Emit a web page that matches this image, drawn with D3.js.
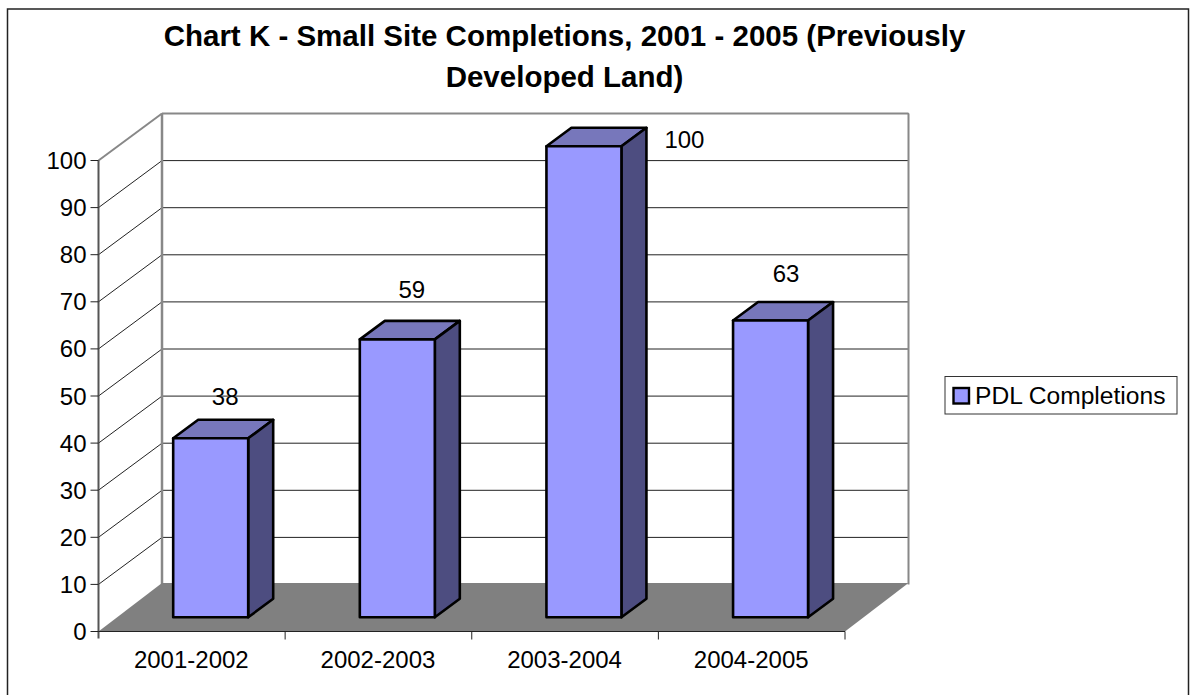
<!DOCTYPE html>
<html><head><meta charset="utf-8">
<script src="https://cdn.jsdelivr.net/npm/d3@7"></script>
<style>html,body{margin:0;padding:0;background:#fff}svg{display:block}text{font-family:"Liberation Sans",Arial,sans-serif;fill:#000}</style>
</head><body><svg id="c" width="1191" height="695"></svg>
<script>
const categories=["2001-2002","2002-2003","2003-2004","2004-2005"];
const seriesName="PDL Completions";
const values=[38,59,100,63];
const yTicks=[0,10,20,30,40,50,60,70,80,90,100];
const titleLines=["Chart K - Small Site Completions, 2001 - 2005 (Previously","Developed Land)"];

const labelNudgeX=[0,0,86,1], labelNudgeY=[-33.5,-41,2,-39];

const svg=d3.select("#c");
const W=1191,H=695;
svg.append("rect").attr("x",7.5).attr("y",9).attr("width",1181).attr("height",H).attr("fill","#fff").attr("stroke","#222").attr("stroke-width",1.5);

const x0=98.5,x1=845,yBase=631.5,yTop=160.5,dx=63.5,dy=47;
const y=d3.scaleLinear().domain([0,100]).range([yBase,yTop]);
const x=d3.scaleBand().domain(categories).range([x0,x1]);
const path=p=>"M"+p.map(q=>q.join(",")).join("L")+"Z";
const ln=(a,b,c,w)=>svg.append("line").attr("x1",a[0]).attr("y1",a[1]).attr("x2",b[0]).attr("y2",b[1]).attr("stroke",c).attr("stroke-width",w);

// gridlines
yTicks.slice(1).forEach(t=>{
  if(t<100) ln([x0,y(t)],[x0+dx,y(t)-dy],"#222",1);
  ln([x0+dx,y(t)-dy],[x1+dx,y(t)-dy],"#222",1);
});
ln([x0,y(100)],[x0+dx,y(100)-dy],"#888",2);
// walls
ln([x0+dx,y(100)-dy],[x1+dx,y(100)-dy],"#888",2);
ln([x0+dx,y(100)-dy],[x0+dx,yBase-dy],"#888",2.5);
ln([x1+dx,y(100)-dy],[x1+dx,yBase-dy],"#888",2);
// floor
svg.append("path").attr("d",path([[x0,yBase],[x1,yBase],[x1+dx,yBase-dy-1.5],[x0+dx,yBase-dy-1.5]])).attr("fill","#808080");
ln([x0,yBase+7],[x0,y(100)],"#555",2);

// axes
yTicks.forEach(t=>{
  ln([x0-8,y(t)],[x0,y(t)],"#222",1);
  svg.append("text").attr("x",x0-12).attr("y",y(t)+8.5).attr("text-anchor","end").attr("font-size",24).text(t);
});
ln([x0,yBase],[x1,yBase],"#222",1.2);
[...categories.map(c=>x(c)).slice(1),x1].forEach(v=>ln([v,yBase],[v,yBase+8],"#222",1));
categories.forEach(c=>svg.append("text").attr("x",x(c)+x.bandwidth()/2-0.5).attr("y",668).attr("text-anchor","middle").attr("font-size",24).text(c));

// bars
const barW=75,depthF=0.313,barDx=25,barDy=18.5;
const sx=dx*depthF,sy=dy*depthF;
const g=svg.selectAll("g.bar").data(values).join("g").attr("class","bar");
const left=(d,i)=>x(categories[i])+(x.bandwidth()-barW)/2+sx-1;
const bot=yBase-sy+0.5, topY=d=>y(d)-sy+0.5;
g.append("path").attr("d",(d,i)=>{const l=left(d,i);return path([[l,topY(d)],[l+barW,topY(d)],[l+barW+barDx,topY(d)-barDy],[l+barDx,topY(d)-barDy]])}).attr("fill","#7777bb");
g.append("path").attr("d",(d,i)=>{const l=left(d,i)+barW;return path([[l,topY(d)],[l+barDx,topY(d)-barDy],[l+barDx,bot-barDy],[l,bot]])}).attr("fill","#4d4d80");
g.append("path").attr("d",(d,i)=>{const l=left(d,i);return path([[l,topY(d)],[l+barW,topY(d)],[l+barW,bot],[l,bot]])}).attr("fill","#9999ff");
g.selectAll("path").attr("stroke","#000").attr("stroke-width",2.6).attr("stroke-linejoin","round");
g.append("text").attr("x",(d,i)=>left(d,i)+barW/2+14.5+labelNudgeX[i]).attr("y",(d,i)=>topY(d)+labelNudgeY[i]).attr("text-anchor","middle").attr("font-size",24).text(d=>d);

// legend
svg.append("rect").attr("x",945).attr("y",376.5).attr("width",232).attr("height",37.5).attr("fill","#fff").attr("stroke","#333").attr("stroke-width",1);
svg.append("rect").attr("x",953.5).attr("y",388).attr("width",15.5).attr("height",15.5).attr("fill","#9999ff").attr("stroke","#000").attr("stroke-width",2.4);
svg.append("text").attr("x",975).attr("y",403.5).attr("font-size",24.6).text(seriesName);

// title
titleLines.forEach((t,i)=>svg.append("text").attr("x",564.5).attr("y",46+i*41).attr("text-anchor","middle").attr("font-size",29.5).attr("font-weight","bold").text(t));
</script></body></html>
